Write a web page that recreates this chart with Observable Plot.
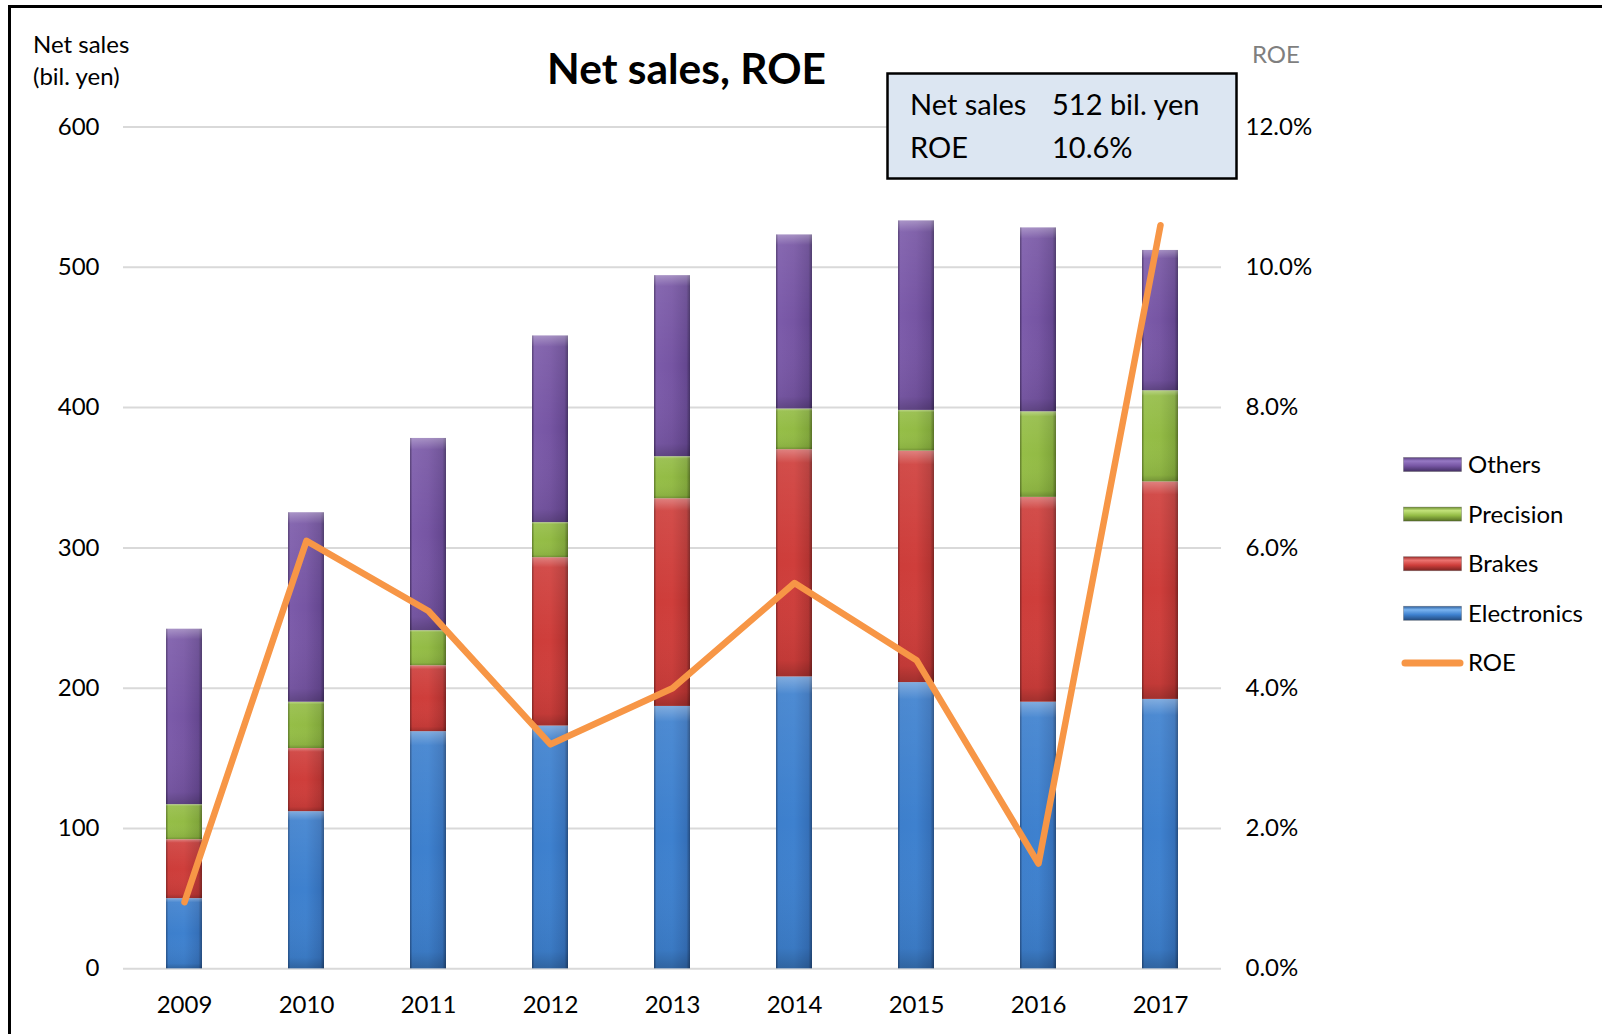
<!DOCTYPE html>
<html><head><meta charset="utf-8">
<script src="https://cdn.jsdelivr.net/npm/d3@7"></script>
<script src="https://cdn.jsdelivr.net/npm/@observablehq/plot@0.6"></script>
<style>
html,body{margin:0;padding:0;background:#fff;}
#wrap{position:relative;width:1602px;height:1034px;overflow:hidden;font-family:Lato,"Open Sans",sans-serif;}
#wrap > svg{position:absolute;left:0;top:0;}
</style></head><body>
<svg width="0" height="0" style="position:absolute">
<defs>
<linearGradient id="g-elec" x1="0" x2="1" y1="0" y2="0">
<stop offset="0" stop-color="#27528a"/><stop offset="0.07" stop-color="#3d7fcc"/><stop offset="0.5" stop-color="#3e81cf"/><stop offset="0.9" stop-color="#3570b9"/><stop offset="1" stop-color="#244b7e"/></linearGradient>
<linearGradient id="g-brakes" x1="0" x2="1" y1="0" y2="0">
<stop offset="0" stop-color="#862826"/><stop offset="0.07" stop-color="#cd3d3a"/><stop offset="0.5" stop-color="#cf3e3b"/><stop offset="0.9" stop-color="#b33331"/><stop offset="1" stop-color="#7a2321"/></linearGradient>
<linearGradient id="g-prec" x1="0" x2="1" y1="0" y2="0">
<stop offset="0" stop-color="#5e7a29"/><stop offset="0.07" stop-color="#95be47"/><stop offset="0.5" stop-color="#93bb45"/><stop offset="0.9" stop-color="#80a63a"/><stop offset="1" stop-color="#566f25"/></linearGradient>
<linearGradient id="g-oth" x1="0" x2="1" y1="0" y2="0">
<stop offset="0" stop-color="#4a336b"/><stop offset="0.07" stop-color="#7c5baa"/><stop offset="0.5" stop-color="#7655a3"/><stop offset="0.9" stop-color="#654790"/><stop offset="1" stop-color="#433063"/></linearGradient>
<linearGradient id="g-shade" x1="0" x2="0" y1="0" y2="1">
<stop offset="0" stop-color="#fff" stop-opacity="0.35"/><stop offset="0.06" stop-color="#fff" stop-opacity="0.08"/><stop offset="0.5" stop-color="#fff" stop-opacity="0"/><stop offset="0.93" stop-color="#000" stop-opacity="0.06"/><stop offset="1" stop-color="#000" stop-opacity="0.22"/></linearGradient>
<linearGradient id="l-oth" x1="0" x2="0" y1="0" y2="1"><stop offset="0" stop-color="#5b4182"/><stop offset="0.25" stop-color="#9678c4"/><stop offset="0.6" stop-color="#7655a3"/><stop offset="1" stop-color="#433063"/></linearGradient>
<linearGradient id="l-prec" x1="0" x2="0" y1="0" y2="1"><stop offset="0" stop-color="#6d8d30"/><stop offset="0.25" stop-color="#c2e27a"/><stop offset="0.6" stop-color="#93bb45"/><stop offset="1" stop-color="#566f25"/></linearGradient>
<linearGradient id="l-brakes" x1="0" x2="0" y1="0" y2="1"><stop offset="0" stop-color="#9a2e2c"/><stop offset="0.25" stop-color="#ec7471"/><stop offset="0.6" stop-color="#cf3e3b"/><stop offset="1" stop-color="#7a2321"/></linearGradient>
<linearGradient id="l-elec" x1="0" x2="0" y1="0" y2="1"><stop offset="0" stop-color="#2d5f9e"/><stop offset="0.25" stop-color="#7ab4f0"/><stop offset="0.6" stop-color="#3e81cf"/><stop offset="1" stop-color="#244b7e"/></linearGradient>
</defs></svg>
<div id="wrap"></div>
<script>
// ---- data ----
const years = ["2009","2010","2011","2012","2013","2014","2015","2016","2017"];
const seriesNames = ["Electronics","Brakes","Precision","Others"];
const electronics = [50,112,169,173,187,208,204,190,192];
const brakes      = [42,45,47,120,148,162,165,146,155];
const precision   = [25,33,25,25,30,29,29,61,65];
const others      = [125,135,137,133,129,124,135,131,100];
const roe         = [0.95,6.1,5.1,3.2,4.0,5.5,4.4,1.5,10.6];
const leftTicks   = [0,100,200,300,400,500,600];
const roeTicks    = [0,2,4,6,8,10,12];

// ---- build ----
const seriesValues = {Electronics:electronics, Brakes:brakes, Precision:precision, Others:others};
const seriesFill = {Electronics:"url(#g-elec)", Brakes:"url(#g-brakes)", Precision:"url(#g-prec)", Others:"url(#g-oth)"};
const rows = seriesNames.flatMap(s => years.map((y,i) => ({year:y, series:s, value:seriesValues[s][i]})));
const roeRows = years.map((y,i) => ({year:y, roe:roe[i]}));
const k = 600/12; // secondary axis mapping: 12% at top of the 600 bil. yen axis

const chart = Plot.plot({
  width:1602, height:1034,
  marginLeft:123, marginRight:381, marginTop:126.5, marginBottom:65.7,
  style:{fontFamily:"Lato, 'Open Sans', sans-serif", fontSize:"24px", color:"#000", background:"transparent", overflow:"visible"},
  x:{type:"band", domain:years, paddingInner:0.705, paddingOuter:0.3525, label:null},
  y:{domain:[0,600], label:null},
  color:{type:"identity"},
  marks:[
    Plot.gridY(leftTicks, {stroke:"#d9d9d9", strokeOpacity:1, strokeWidth:2}),
    Plot.barY(rows, {x:"year", y:"value", z:"series", fill:d => seriesFill[d.series]}),
    Plot.barY(rows, {x:"year", y:"value", z:"series", fill:"url(#g-shade)"}),
    Plot.lineY(roeRows, {x:"year", y:d => d.roe*k, stroke:"#f79646", strokeWidth:6.5, strokeLinejoin:"round", strokeLinecap:"round"}),
    Plot.axisY(leftTicks, {anchor:"left", tickSize:0, tickPadding:24, label:null}),
    Plot.axisY(roeTicks.map(t => t*k), {anchor:"right", tickSize:0, tickPadding:24, tickFormat:d => (d/k).toFixed(1)+"%", label:null}),
    Plot.axisX({tickSize:0, tickPadding:27, label:null})
  ]
});
const wrap = document.getElementById("wrap");
wrap.appendChild(chart);

// ---- annotations, title, legend ----
const legendItems = [
  {name:"Others", fill:"url(#l-oth)"},
  {name:"Precision", fill:"url(#l-prec)"},
  {name:"Brakes", fill:"url(#l-brakes)"},
  {name:"Electronics", fill:"url(#l-elec)"}
];
let legend = "";
legendItems.forEach((it,i) => {
  const cy = 464.5 + i*49.6;
  legend += `<rect x="1403.5" y="${cy-7}" width="58" height="14" fill="${it.fill}" stroke="#3a3a3a" stroke-opacity="0.35" stroke-width="0.8"/>`;
  legend += `<text x="1468" y="${cy+8.5}" font-size="24">${it.name}</text>`;
});
{
  const cy = 464.5 + 4*49.6;
  legend += `<line x1="1405" x2="1460" y1="${cy}" y2="${cy}" stroke="#f79646" stroke-width="7" stroke-linecap="round"/>`;
  legend += `<text x="1468" y="${cy+8.5}" font-size="24">ROE</text>`;
}
const over = `<svg width="1602" height="1034" xmlns="http://www.w3.org/2000/svg" style="font-family:Lato,'Open Sans',sans-serif;pointer-events:none">
<path d="M9.5 1034 V6.5 H1602" fill="none" stroke="#000" stroke-width="3"/>
<text x="686.5" y="83.5" text-anchor="middle" font-size="42.5" font-weight="700">Net sales, ROE</text>
<text x="33" y="53" font-size="24">Net sales</text>
<text x="33" y="85" font-size="24">(bil. yen)</text>
<text x="1252" y="63" font-size="24" fill="#7f7f7f">ROE</text>
<rect x="887.5" y="73.5" width="349" height="105" fill="#dce6f2" stroke="#000" stroke-width="2.5"/>
<text x="910" y="115" font-size="29">Net sales</text>
<text x="1052" y="115" font-size="29">512 bil. yen</text>
<text x="910" y="158" font-size="29">ROE</text>
<text x="1052" y="158" font-size="29">10.6%</text>
${legend}
</svg>`;
wrap.insertAdjacentHTML("beforeend", over);
</script>
</body></html>
